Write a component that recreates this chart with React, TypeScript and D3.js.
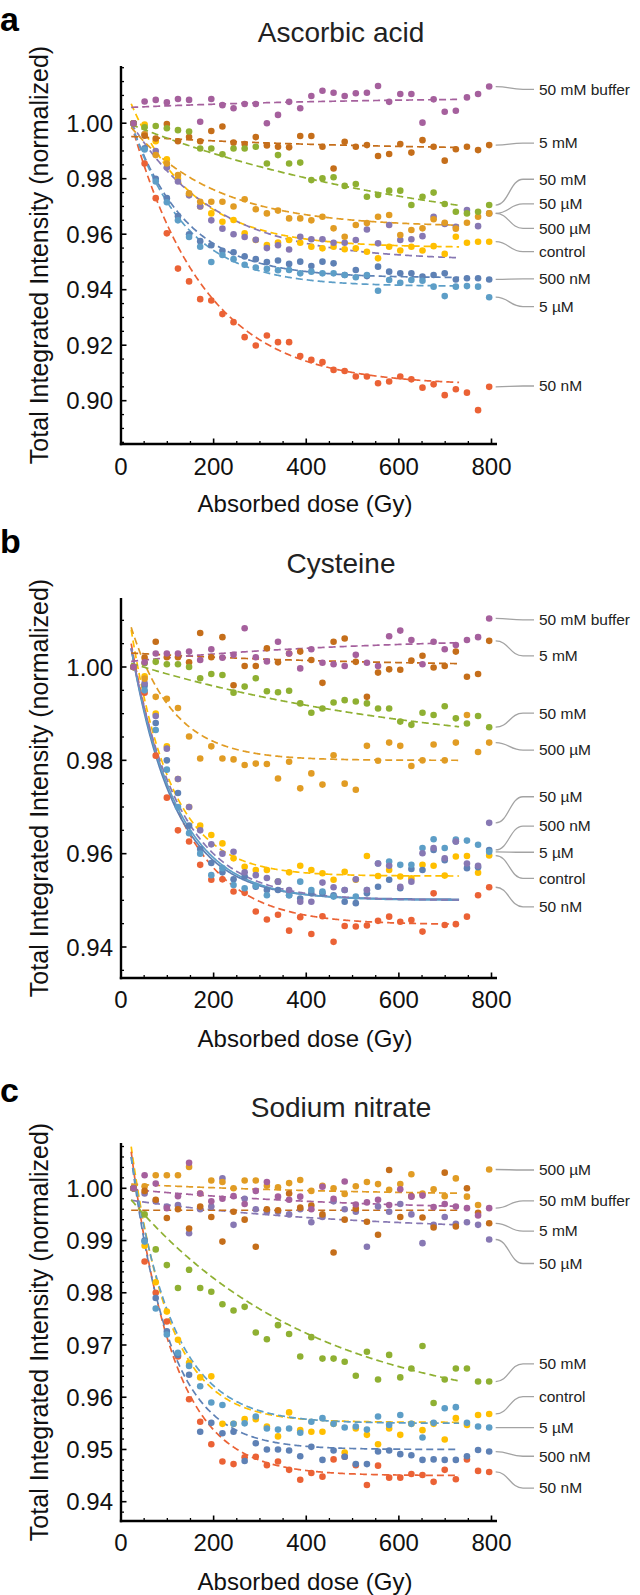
import React from "react";
import * as d3 from "d3";

const FONT = '"Liberation Sans", Arial, Helvetica, sans-serif';

// ---------- shared ----------
const seriesNames = ["control", "50 nM", "500 nM", "5 µM", "50 µM", "500 µM", "5 mM", "50 mM", "50 mM buffer"];
const seriesColors = ["#FFBF00", "#EB6235", "#5E81B5", "#5D9EC7", "#8778B3", "#E19C24", "#C56E1A", "#8FB032", "#A5609D"];
const doses = [27, 51, 75, 99, 123, 147, 171, 195, 219, 243, 267, 291, 315, 339, 363, 387, 411, 435, 459, 483, 507, 531, 555, 579, 603, 627, 651, 675, 699, 723, 747, 771, 795];
const xTicks = [0, 200, 400, 600, 800];
const xMinorTicks = [50, 100, 150, 250, 300, 350, 450, 500, 550, 650, 700, 750];

// ---------- a: Ascorbic acid ----------
const ascorbicValues = [
  [1.0000, 0.9995, 0.9935, 0.9870, 0.9800, 0.9745, 0.9700, 0.9675, 0.9645, 0.9651, 0.9603, 0.9579, 0.9561, 0.9570, 0.9579, 0.9569, 0.9555, 0.9549, 0.9555, 0.9546, 0.9549, 0.9537, 0.9513, 0.9555, 0.9541, 0.9555, 0.9541, 0.9557, 0.9529, 0.9591, 0.9569, 0.9573, 0.9573],
  [1.0000, 0.9855, 0.9730, 0.9603, 0.9476, 0.9430, 0.9366, 0.9361, 0.9312, 0.9283, 0.9229, 0.9199, 0.9235, 0.9211, 0.9211, 0.9161, 0.9147, 0.9139, 0.9111, 0.9107, 0.9087, 0.9087, 0.9063, 0.9069, 0.9087, 0.9077, 0.9047, 0.9059, 0.9020, 0.9041, 0.9029, 0.8966, 0.9050],
  [1.0000, 0.9910, 0.9800, 0.9730, 0.9665, 0.9600, 0.9575, 0.9560, 0.9540, 0.9535, 0.9520, 0.9510, 0.9500, 0.9505, 0.9493, 0.9501, 0.9485, 0.9501, 0.9495, 0.9453, 0.9471, 0.9449, 0.9483, 0.9465, 0.9459, 0.9459, 0.9447, 0.9453, 0.9459, 0.9437, 0.9441, 0.9441, 0.9437],
  [1.0000, 0.9905, 0.9790, 0.9715, 0.9650, 0.9590, 0.9555, 0.9500, 0.9525, 0.9510, 0.9490, 0.9480, 0.9475, 0.9470, 0.9471, 0.9459, 0.9465, 0.9459, 0.9459, 0.9453, 0.9445, 0.9453, 0.9396, 0.9435, 0.9425, 0.9435, 0.9432, 0.9411, 0.9377, 0.9411, 0.9413, 0.9411, 0.9373],
  [1.0000, 0.9960, 0.9900, 0.9840, 0.9790, 0.9740, 0.9700, 0.9650, 0.9620, 0.9600, 0.9590, 0.9580, 0.9550, 0.9560, 0.9545, 0.9591, 0.9582, 0.9582, 0.9569, 0.9569, 0.9579, 0.9617, 0.9567, 0.9633, 0.9579, 0.9582, 0.9593, 0.9663, 0.9637, 0.9627, 0.9687, 0.9629, 0.9675],
  [1.0000, 0.9960, 0.9885, 0.9855, 0.9813, 0.9747, 0.9717, 0.9717, 0.9717, 0.9700, 0.9726, 0.9690, 0.9675, 0.9685, 0.9657, 0.9657, 0.9650, 0.9663, 0.9621, 0.9591, 0.9633, 0.9640, 0.9663, 0.9669, 0.9597, 0.9615, 0.9621, 0.9654, 0.9641, 0.9620, 0.9641, 0.9663, 0.9675],
  [1.0000, 0.9955, 0.9945, 0.9997, 0.9935, 0.9950, 0.9935, 0.9972, 0.9988, 0.9930, 0.9925, 0.9950, 0.9920, 0.9915, 0.9913, 0.9954, 0.9954, 0.9915, 0.9837, 0.9933, 0.9915, 0.9921, 0.9882, 0.9889, 0.9925, 0.9894, 0.9939, 0.9915, 0.9865, 0.9906, 0.9915, 0.9903, 0.9921],
  [1.0000, 0.9985, 0.9990, 0.9982, 0.9975, 0.9970, 0.9909, 0.9909, 0.9888, 0.9909, 0.9909, 0.9915, 0.9855, 0.9885, 0.9855, 0.9858, 0.9795, 0.9801, 0.9805, 0.9774, 0.9781, 0.9735, 0.9741, 0.9757, 0.9757, 0.9705, 0.9735, 0.9750, 0.9709, 0.9681, 0.9675, 0.9681, 0.9705],
  [1.0000, 1.0078, 1.0084, 1.0075, 1.0087, 1.0084, 1.0005, 1.0087, 1.0065, 1.0054, 1.0069, 1.0069, 1.0000, 1.0030, 1.0077, 1.0054, 1.0098, 1.0117, 1.0110, 1.0098, 1.0108, 1.0110, 1.0134, 1.0077, 1.0105, 1.0105, 1.0002, 1.0086, 1.0041, 1.0045, 1.0093, 1.0105, 1.0132],
];
const ascorbicFitStart = [1.0070, 1.0000, 1.0000, 1.0000, 1.0000, 0.9985, 0.9952, 0.9995, 1.0057];
const ascorbicFitPlateau = [0.9552, 0.9055, 0.9443, 0.9412, 0.9505, 0.9625, 0.9900, 0.9550, 1.0095];
const ascorbicFitRate = [0.0075, 0.0063, 0.0085, 0.0085, 0.0055, 0.0055, 0.0020, 0.0015, 0.0020];
const ascorbicFitSolid = [false, false, false, false, false, false, false, false, false];
const ascorbicLabelValues = [0.9537, 0.9053, 0.9439, 0.9339, 0.9709, 0.9621, 0.9928, 0.9798, 1.0122];
const ascorbicYTicks = [0.90, 0.92, 0.94, 0.96, 0.98, 1.00];

// ---------- b: Cysteine ----------
const cysteineValues = [
  [1.0000, 0.9980, 0.9900, 0.9830, 0.9760, 0.9700, 0.9660, 0.9640, 0.9622, 0.9590, 0.9572, 0.9565, 0.9565, 0.9540, 0.9560, 0.9574, 0.9565, 0.9558, 0.9544, 0.9561, 0.9544, 0.9595, 0.9552, 0.9565, 0.9551, 0.9547, 0.9576, 0.9574, 0.9553, 0.9594, 0.9595, 0.9559, 0.9596],
  [1.0000, 0.9945, 0.9810, 0.9720, 0.9650, 0.9626, 0.9576, 0.9544, 0.9545, 0.9519, 0.9516, 0.9476, 0.9459, 0.9469, 0.9435, 0.9464, 0.9428, 0.9466, 0.9411, 0.9445, 0.9444, 0.9446, 0.9456, 0.9465, 0.9454, 0.9458, 0.9433, 0.9515, 0.9447, 0.9449, 0.9465, 0.9511, 0.9528],
  [1.0000, 0.9960, 0.9880, 0.9800, 0.9730, 0.9660, 0.9610, 0.9580, 0.9560, 0.9545, 0.9551, 0.9529, 0.9522, 0.9522, 0.9511, 0.9504, 0.9515, 0.9515, 0.9511, 0.9497, 0.9494, 0.9515, 0.9529, 0.9544, 0.9526, 0.9567, 0.9565, 0.9608, 0.9586, 0.9626, 0.9569, 0.9571, 0.9608],
  [1.0000, 0.9950, 0.9865, 0.9780, 0.9700, 0.9644, 0.9600, 0.9554, 0.9569, 0.9533, 0.9526, 0.9531, 0.9511, 0.9540, 0.9511, 0.9540, 0.9522, 0.9519, 0.9508, 0.9522, 0.9508, 0.9522, 0.9579, 0.9583, 0.9576, 0.9576, 0.9612, 0.9631, 0.9612, 0.9630, 0.9628, 0.9619, 0.9604],
  [1.0000, 0.9965, 0.9895, 0.9825, 0.9760, 0.9700, 0.9650, 0.9620, 0.9600, 0.9604, 0.9560, 0.9554, 0.9548, 0.9540, 0.9522, 0.9497, 0.9497, 0.9538, 0.9528, 0.9522, 0.9545, 0.9522, 0.9579, 0.9574, 0.9529, 0.9540, 0.9601, 0.9612, 0.9590, 0.9626, 0.9579, 0.9574, 0.9666],
  [1.0000, 0.9975, 0.9936, 0.9932, 0.9912, 0.9851, 0.9804, 0.9830, 0.9804, 0.9802, 0.9790, 0.9793, 0.9792, 0.9761, 0.9797, 0.9740, 0.9772, 0.9748, 0.9811, 0.9750, 0.9737, 0.9831, 0.9799, 0.9838, 0.9831, 0.9788, 0.9800, 0.9834, 0.9800, 0.9838, 0.9897, 0.9818, 0.9838],
  [1.0000, 1.0020, 1.0054, 1.0021, 1.0021, 1.0010, 1.0073, 1.0021, 1.0064, 0.9961, 1.0002, 1.0002, 1.0040, 1.0010, 1.0029, 1.0033, 1.0015, 0.9966, 1.0054, 1.0061, 1.0011, 0.9936, 0.9988, 0.9995, 0.9994, 1.0014, 1.0024, 0.9999, 1.0002, 1.0033, 0.9979, 0.9985, 1.0056],
  [1.0000, 1.0008, 1.0011, 1.0006, 1.0006, 1.0000, 0.9976, 0.9985, 0.9983, 0.9945, 0.9958, 0.9976, 0.9948, 0.9946, 0.9949, 0.9922, 0.9902, 0.9911, 0.9924, 0.9929, 0.9926, 0.9922, 0.9911, 0.9911, 0.9883, 0.9876, 0.9902, 0.9897, 0.9916, 0.9890, 0.9879, 0.9895, 0.9871],
  [1.0000, 1.0010, 1.0029, 1.0029, 1.0029, 1.0033, 1.0015, 1.0038, 1.0020, 1.0026, 1.0083, 1.0021, 1.0012, 1.0054, 1.0029, 0.9997, 1.0038, 1.0009, 1.0006, 1.0002, 1.0026, 1.0009, 1.0002, 1.0066, 1.0078, 1.0058, 1.0006, 1.0054, 1.0038, 1.0047, 1.0058, 1.0064, 1.0104],
];
const cysteineFitStart = [1.0080, 1.0050, 1.0040, 1.0040, 1.0040, 1.0085, 1.0030, 1.0008, 1.0012];
const cysteineFitPlateau = [0.9552, 0.9448, 0.9502, 0.9500, 0.9500, 0.9800, 1.0000, 0.9800, 1.0065];
const cysteineFitRate = [0.0115, 0.0090, 0.0105, 0.0100, 0.0095, 0.0110, 0.0020, 0.0015, 0.0020];
const cysteineFitSolid = [false, false, true, true, false, false, false, false, false];
const cysteineLabelValues = [0.9547, 0.9486, 0.9659, 0.9603, 0.9722, 0.9822, 1.0024, 0.9901, 1.0101];
const cysteineYTicks = [0.94, 0.96, 0.98, 1.00];

// ---------- c: Sodium nitrate ----------
const nitrateValues = [
  [1.0000, 0.9890, 0.9820, 0.9764, 0.9710, 0.9666, 0.9638, 0.9640, 0.9549, 0.9549, 0.9558, 0.9558, 0.9544, 0.9525, 0.9571, 0.9537, 0.9534, 0.9534, 0.9549, 0.9494, 0.9540, 0.9528, 0.9510, 0.9540, 0.9528, 0.9549, 0.9537, 0.9549, 0.9519, 0.9560, 0.9547, 0.9566, 0.9568],
  [1.0000, 0.9860, 0.9800, 0.9745, 0.9678, 0.9596, 0.9553, 0.9510, 0.9477, 0.9472, 0.9485, 0.9486, 0.9470, 0.9477, 0.9461, 0.9442, 0.9455, 0.9448, 0.9481, 0.9486, 0.9470, 0.9432, 0.9469, 0.9446, 0.9446, 0.9453, 0.9451, 0.9438, 0.9461, 0.9443, 0.9481, 0.9459, 0.9457],
  [1.0000, 0.9900, 0.9790, 0.9726, 0.9681, 0.9643, 0.9534, 0.9551, 0.9531, 0.9534, 0.9478, 0.9512, 0.9500, 0.9500, 0.9498, 0.9487, 0.9505, 0.9480, 0.9498, 0.9486, 0.9472, 0.9472, 0.9496, 0.9498, 0.9491, 0.9489, 0.9480, 0.9481, 0.9480, 0.9480, 0.9487, 0.9499, 0.9496],
  [1.0000, 0.9898, 0.9770, 0.9720, 0.9685, 0.9660, 0.9621, 0.9590, 0.9585, 0.9549, 0.9550, 0.9563, 0.9540, 0.9538, 0.9540, 0.9532, 0.9553, 0.9560, 0.9549, 0.9542, 0.9544, 0.9538, 0.9563, 0.9547, 0.9566, 0.9549, 0.9523, 0.9551, 0.9579, 0.9581, 0.9551, 0.9544, 0.9542],
  [1.0000, 0.9990, 0.9975, 0.9965, 0.9968, 0.9914, 0.9960, 0.9965, 1.0019, 0.9930, 0.9980, 0.9960, 0.9955, 0.9955, 0.9950, 0.9960, 0.9935, 0.9945, 0.9975, 0.9960, 0.9955, 0.9888, 0.9965, 0.9955, 0.9970, 0.9950, 0.9895, 0.9930, 0.9945, 0.9932, 0.9935, 0.9930, 0.9902],
  [1.0000, 1.0004, 1.0025, 1.0025, 1.0025, 1.0041, 0.9990, 1.0015, 1.0012, 1.0000, 1.0015, 1.0015, 1.0005, 1.0002, 1.0010, 1.0016, 0.9995, 1.0005, 1.0000, 0.9989, 1.0004, 1.0012, 1.0008, 0.9997, 1.0008, 1.0027, 0.9990, 0.9998, 0.9985, 1.0019, 0.9984, 0.9968, 1.0036],
  [1.0000, 0.9995, 0.9978, 0.9943, 0.9960, 0.9923, 0.9965, 0.9945, 0.9898, 0.9955, 0.9940, 0.9888, 0.9960, 0.9958, 0.9990, 0.9963, 0.9967, 0.9950, 0.9877, 0.9940, 0.9961, 0.9936, 0.9911, 1.0035, 0.9945, 0.9985, 0.9944, 0.9925, 1.0030, 0.9927, 1.0000, 0.9953, 0.9933],
  [1.0000, 0.9950, 0.9883, 0.9853, 0.9809, 0.9844, 0.9809, 0.9802, 0.9778, 0.9766, 0.9773, 0.9724, 0.9711, 0.9738, 0.9721, 0.9678, 0.9715, 0.9674, 0.9674, 0.9668, 0.9641, 0.9687, 0.9634, 0.9681, 0.9638, 0.9655, 0.9698, 0.9589, 0.9634, 0.9655, 0.9655, 0.9630, 0.9630],
  [1.0000, 1.0025, 1.0009, 0.9962, 0.9985, 1.0049, 0.9990, 0.9975, 0.9980, 0.9985, 0.9970, 0.9995, 1.0012, 0.9984, 0.9978, 0.9984, 0.9960, 1.0003, 0.9980, 1.0013, 0.9969, 0.9973, 0.9978, 0.9968, 0.9998, 0.9984, 0.9986, 0.9964, 0.9970, 0.9965, 0.9962, 0.9948, 0.9962],
];
const nitrateFitStart = [1.0080, 1.0070, 1.0060, 1.0060, 0.9977, 1.0008, 0.9958, 0.9978, 0.9998];
const nitrateFitPlateau = [0.9552, 0.9450, 0.9500, 0.9550, 0.9915, 0.9985, 0.9958, 0.9560, 0.9955];
const nitrateFitRate = [0.0120, 0.0110, 0.0120, 0.0110, 0.0020, 0.0020, 0.0020, 0.0025, 0.0020];
const nitrateFitSolid = [false, false, false, false, false, false, false, false, false];
const nitrateLabelValues = [0.9601, 0.9426, 0.9487, 0.9542, 0.9856, 1.0035, 0.9918, 0.9664, 0.9976];
const nitrateYTicks = [0.94, 0.95, 0.96, 0.97, 0.98, 0.99, 1.00];

type PanelSpec = {
  letter: string;
  title: string;
  values: number[][];
  fitStart: number[];
  fitPlateau: number[];
  fitRate: number[];
  fitSolid: boolean[];
  labelValues: number[];
  yTicks: number[];
  yMinorStep: number;
  refDomain: [number, number];
  refRange: [number, number];
  axisTop: number;
  axisBottom: number;
  letterY: number;
  titleY: number;
  xTickLabelY: number;
  xTitleY: number;
};

const panels: PanelSpec[] = [
  {
    letter: "a", title: "Ascorbic acid", values: ascorbicValues, fitStart: ascorbicFitStart,
    fitPlateau: ascorbicFitPlateau, fitRate: ascorbicFitRate, fitSolid: ascorbicFitSolid,
    labelValues: ascorbicLabelValues, yTicks: ascorbicYTicks, yMinorStep: 0.005,
    refDomain: [0.90, 1.00], refRange: [400.7, 123.2], axisTop: 66, axisBottom: 444,
    letterY: 31, titleY: 42, xTickLabelY: 475, xTitleY: 512,
  },
  {
    letter: "b", title: "Cysteine", values: cysteineValues, fitStart: cysteineFitStart,
    fitPlateau: cysteineFitPlateau, fitRate: cysteineFitRate, fitSolid: cysteineFitSolid,
    labelValues: cysteineLabelValues, yTicks: cysteineYTicks, yMinorStep: 0.005,
    refDomain: [0.94, 1.00], refRange: [947, 667], axisTop: 598, axisBottom: 978,
    letterY: 553, titleY: 573, xTickLabelY: 1008, xTitleY: 1047,
  },
  {
    letter: "c", title: "Sodium nitrate", values: nitrateValues, fitStart: nitrateFitStart,
    fitPlateau: nitrateFitPlateau, fitRate: nitrateFitRate, fitSolid: nitrateFitSolid,
    labelValues: nitrateLabelValues, yTicks: nitrateYTicks, yMinorStep: 0.002,
    refDomain: [0.94, 1.00], refRange: [1501.7, 1188.3], axisTop: 1143, axisBottom: 1521,
    letterY: 1102, titleY: 1117, xTickLabelY: 1551, xTitleY: 1590,
  },
];

const AXIS_X = 121;
const X800 = 491.5;
const AXIS_END = 497;
const LABEL_X = 539;

function Panel({ p }: { p: PanelSpec }) {
  const x = d3.scaleLinear().domain([0, 800]).range([AXIS_X, X800]);
  const y = d3.scaleLinear().domain(p.refDomain).range(p.refRange);
  const vTop = y.invert(p.axisTop);
  const vBot = y.invert(p.axisBottom);
  const fmt = d3.format(".2f");

  const minor: number[] = [];
  const i0 = Math.ceil(vBot / p.yMinorStep - 1e-6);
  const i1 = Math.floor(vTop / p.yMinorStep + 1e-6);
  for (let i = i0; i <= i1; i++) {
    const v = i * p.yMinorStep;
    if (!p.yTicks.some((t) => Math.abs(t - v) < 1e-6)) minor.push(v);
  }

  const fitX = d3.range(22, 731, 2);
  const midY = (p.axisTop + p.axisBottom) / 2;

  return (
    <g>
      <text x={0} y={p.letterY} fontFamily={FONT} fontWeight="bold" fontSize={34} fill="#000">{p.letter}</text>
      <text x={341} y={p.titleY} fontFamily={FONT} fontSize={28} textAnchor="middle" fill="#222">{p.title}</text>

      {/* fitted curves */}
      {p.values.map((_, si) => {
        const s = p.fitStart[si], a = p.fitPlateau[si], k = p.fitRate[si];
        const lg = d3
          .line<number>()
          .x((d) => x(d))
          .y((d) => y(a + (s - a) * Math.exp(-k * (d - 22))));
        return (
          <path
            key={"f" + si}
            d={lg(fitX) || ""}
            fill="none"
            stroke={seriesColors[si]}
            strokeWidth={1.7}
            strokeDasharray={p.fitSolid[si] ? undefined : "7,4"}
          />
        );
      })}

      {/* points */}
      {p.values.map((vals, si) =>
        vals.map((v, j) => (
          <circle key={"p" + si + "-" + j} cx={x(doses[j])} cy={y(v)} r={3.3} fill={seriesColors[si]} />
        ))
      )}

      {/* callouts */}
      {p.values.map((vals, si) => {
        const last = vals[vals.length - 1];
        const px = x(doses[vals.length - 1]) + 6.5;
        const py = y(last);
        const ly = y(p.labelValues[si]);
        const lx = LABEL_X - 5;
        const d = `M${px},${py} C${px + 13},${py} ${lx - 24},${ly} ${lx - 11},${ly} L${lx},${ly}`;
        return (
          <g key={"c" + si}>
            <path d={d} fill="none" stroke="#a3a3a3" strokeWidth={1.3} />
            <text x={LABEL_X} y={ly + 5.3} fontFamily={FONT} fontSize={15.5} fill="#222">{seriesNames[si]}</text>
          </g>
        );
      })}

      {/* axes */}
      <line x1={AXIS_X} x2={AXIS_X} y1={p.axisTop} y2={p.axisBottom + 1.2} stroke="#000" strokeWidth={2.4} />
      <line x1={AXIS_X - 1.2} x2={AXIS_END} y1={p.axisBottom} y2={p.axisBottom} stroke="#000" strokeWidth={2.4} />
      {p.yTicks.map((t) => (
        <g key={"yt" + t}>
          <line x1={AXIS_X} x2={AXIS_X + 5.5} y1={y(t)} y2={y(t)} stroke="#000" strokeWidth={1.6} />
          <text x={113} y={y(t) + 8.5} fontFamily={FONT} fontSize={24} textAnchor="end" fill="#111">{fmt(t)}</text>
        </g>
      ))}
      {minor.map((t) => (
        <line key={"ym" + t} x1={AXIS_X} x2={AXIS_X + 3} y1={y(t)} y2={y(t)} stroke="#000" strokeWidth={1.3} />
      ))}
      {xTicks.map((t) => (
        <g key={"xt" + t}>
          <line x1={x(t)} x2={x(t)} y1={p.axisBottom} y2={p.axisBottom - 5.5} stroke="#000" strokeWidth={1.6} />
          <text x={x(t)} y={p.xTickLabelY} fontFamily={FONT} fontSize={24} textAnchor="middle" fill="#111">{t}</text>
        </g>
      ))}
      {xMinorTicks.map((t) => (
        <line key={"xm" + t} x1={x(t)} x2={x(t)} y1={p.axisBottom} y2={p.axisBottom - 3} stroke="#000" strokeWidth={1.3} />
      ))}
      <text x={305} y={p.xTitleY} fontFamily={FONT} fontSize={24} textAnchor="middle" fill="#111">Absorbed dose (Gy)</text>
      <text
        transform={`translate(48,${midY}) rotate(-90)`}
        fontFamily={FONT}
        fontSize={25}
        textAnchor="middle"
        fill="#111"
      >
        Total Integrated Intensity (normalized)
      </text>
    </g>
  );
}

export default function App() {
  return (
    <div style={{ position: "absolute", left: 0, top: 0, width: 640, height: 1595, background: "#fff" }}>
      <svg width={640} height={1595} viewBox="0 0 640 1595" style={{ display: "block" }}>
        <rect width={640} height={1595} fill="#fff" />
        {panels.map((p) => (
          <Panel key={p.letter} p={p} />
        ))}
      </svg>
    </div>
  );
}
